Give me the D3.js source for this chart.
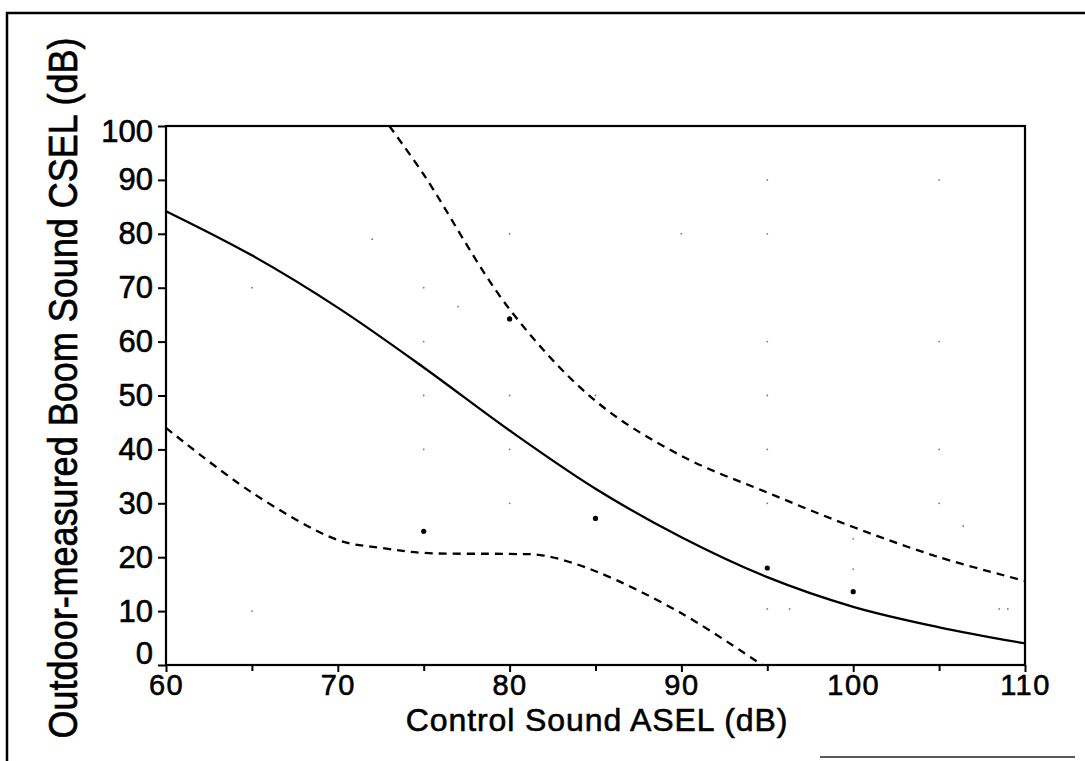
<!DOCTYPE html>
<html><head><meta charset="utf-8">
<script src="https://cdn.jsdelivr.net/npm/d3@7"></script>
<style>body{margin:0;background:#fff}svg{display:block}</style>
</head><body>
<svg id="c" width="1085" height="761"></svg>
<script>
const xTicks = [60, 70, 80, 90, 100, 110];
const xMinorTicks = [65, 75, 85, 95, 105];
const yTicks = [0, 10, 20, 30, 40, 50, 60, 70, 80, 90, 100];

const fitX = [60, 65, 70, 75, 80, 85, 90, 95, 100, 105, 110];
const fitY = [84.2, 76, 66.3, 55.2, 43.5, 32.7, 23.7, 16.3, 10.8, 7, 4];

const upperX = [73, 75, 80, 85, 90, 95, 100, 105, 110];
const upperY = [100, 91, 66, 49, 38.8, 32, 25.6, 20, 15.6];

const lowerX = [60, 65, 70, 72.6, 75, 80, 82, 85, 90, 94.7];
const lowerY = [44, 32, 23.2, 21.7, 20.8, 20.6, 20.3, 17.4, 9.6, 0];

const pointX = [75, 80, 85, 95, 100];
const pointY = [24.8, 64.2, 27.2, 18, 13.6];

const faintX = [65, 65, 72, 75, 75, 75, 75, 77, 80, 80, 80, 80, 85, 90, 95, 95, 95, 95, 95, 95, 95, 96.3, 100, 100, 105, 105, 105, 105, 106.4, 108.5, 109];
const faintY = [70, 10, 79, 70, 60, 50, 40, 66.5, 80, 50, 40, 30, 50, 80, 90, 80, 60, 50, 40, 30, 10.4, 10.4, 23.4, 17.8, 90, 60, 40, 30, 25.8, 10.4, 10.4];

const svg = d3.select('#c');
const x = d3.scaleLinear().domain([60, 110]).range([166, 1025]);
const y = d3.scaleLinear().domain([0, 100]).range([665, 126]);
const FONT = 'Liberation Sans, Arial, sans-serif';

// outer frame
svg.append('path').attr('d', 'M7,761 L7,13 L1085,13').attr('fill', 'none').attr('stroke', '#000').attr('stroke-width', 2.5);
svg.append('line').attr('x1', 820).attr('x2', 1075).attr('y1', 757).attr('y2', 757).attr('stroke', '#222').attr('stroke-width', 1.5);

// plot box
svg.append('rect').attr('x', x(60)).attr('y', y(100)).attr('width', x(110) - x(60)).attr('height', y(0) - y(100))
  .attr('fill', 'none').attr('stroke', '#000').attr('stroke-width', 2.2);

// axes
const xAxis = d3.axisBottom(x).tickValues(xTicks).tickSize(7).tickPadding(2).tickFormat(d3.format('d'));
const gx = svg.append('g').attr('transform', `translate(0,${y(0)})`).call(xAxis);
gx.select('.domain').remove();
gx.selectAll('line').attr('stroke-width', 2);
gx.selectAll('text').attr('font-family', FONT).attr('font-size', 29).attr('fill', '#000')
  .attr('letter-spacing', 1.5).attr('stroke', '#000').attr('stroke-width', 0.6);
svg.append('g').attr('transform', `translate(0,${y(0)})`)
  .call(d3.axisBottom(x).tickValues(xMinorTicks).tickSize(6).tickFormat(''))
  .call(g => g.select('.domain').remove())
  .selectAll('line').attr('stroke-width', 2);

const yAxis = d3.axisLeft(y).tickValues(yTicks).tickSize(8).tickPadding(5).tickFormat(d3.format('d'));
const gy = svg.append('g').attr('transform', `translate(${x(60)},0)`).call(yAxis);
gy.select('.domain').remove();
gy.selectAll('line').attr('stroke-width', 2);
gy.selectAll('text').attr('font-family', FONT).attr('font-size', 31).attr('fill', '#000')
  .attr('stroke', '#000').attr('stroke-width', 0.6);
gy.selectAll('.tick').filter(d => d === 0).select('text').attr('dy', '-0.05em');
gy.selectAll('.tick').filter(d => d === 100).select('text').attr('dy', '0.5em');

// axis titles
svg.append('text').attr('x', 597).attr('y', 731).attr('text-anchor', 'middle')
  .attr('font-family', FONT).attr('font-size', 32).attr('letter-spacing', 0.9)
  .attr('stroke', '#000').attr('stroke-width', 0.6)
  .text('Control Sound ASEL (dB)');
svg.append('text').attr('transform', 'translate(77,388) rotate(-90) scale(1,1.15)').attr('text-anchor', 'middle')
  .attr('font-family', FONT).attr('font-size', 36).attr('stroke', '#000').attr('stroke-width', 0.6)
  .text('Outdoor-measured Boom Sound CSEL (dB)');

// curves
const line = d3.line().x(d => x(d[0])).y(d => y(d[1])).curve(d3.curveCatmullRom);
svg.append('path').datum(d3.zip(fitX, fitY)).attr('d', line).attr('fill', 'none').attr('stroke', '#000').attr('stroke-width', 2.3);
svg.append('path').datum(d3.zip(upperX, upperY)).attr('d', line).attr('fill', 'none').attr('stroke', '#000').attr('stroke-width', 2.3).attr('stroke-dasharray', '8,6');
svg.append('path').datum(d3.zip(lowerX, lowerY)).attr('d', line).attr('fill', 'none').attr('stroke', '#000').attr('stroke-width', 2.3).attr('stroke-dasharray', '8,6');

// faint dots
svg.append('g').selectAll('circle').data(d3.zip(faintX, faintY)).join('circle')
  .attr('cx', d => x(d[0])).attr('cy', d => y(d[1])).attr('r', 0.9).attr('fill', '#777');

// data points
svg.append('g').selectAll('circle').data(d3.zip(pointX, pointY)).join('circle')
  .attr('cx', d => x(d[0])).attr('cy', d => y(d[1])).attr('r', 2.6).attr('fill', '#000');
</script>
</body></html>
